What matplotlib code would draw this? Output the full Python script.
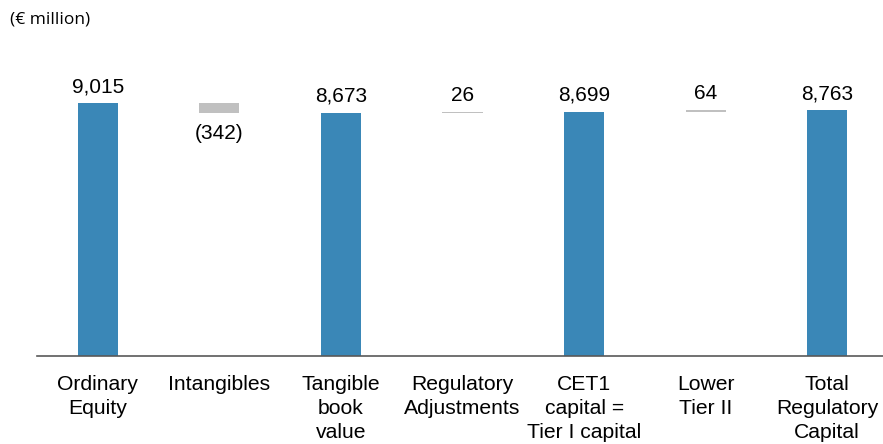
import matplotlib.pyplot as plt

categories = ["Ordinary\nEquity", "Intangibles", "Tangible\nbook\nvalue", "Regulatory\nAdjustments",
              "CET1\ncapital =\nTier I capital", "Lower\nTier II", "Total\nRegulatory\nCapital"]
values = [9015, -342, 8673, 26, 8699, 64, 8763]
is_total = [True, False, True, False, True, False, True]

blue = "#3A87B7"
grey = "#C0C0C0"

plt.rcParams['font.family'] = ['Liberation Sans', 'DejaVu Sans']

fig = plt.figure(figsize=(8.83, 4.44), dpi=100)
ax = fig.add_axes([37 / 883, 88 / 444, 851 / 883, 316 / 444])

running = 0
for i, (v, tot) in enumerate(zip(values, is_total)):
    if tot:
        bottom, height, color = 0, v, blue
        running = v
    else:
        bottom = running if v > 0 else running + v
        height, color = abs(v), grey
        running = running + v
    ax.bar(i, height, bottom=bottom, width=0.33, color=color, linewidth=0)
    if v < 0:
        label = f"({abs(v):,})"
        ax.annotate(label, (i, bottom), xytext=(0, -8.5), textcoords='offset points',
                    ha='center', va='top', fontsize=15)
    else:
        ax.annotate(f"{v:,}", (i, bottom + height), xytext=(0, 5), textcoords='offset points',
                    ha='center', va='bottom', fontsize=15)

ax.set_xlim(-0.5, 6.5)
ax.set_ylim(0, 11260)
ax.set_xticks(range(len(categories)))
ax.set_xticklabels(categories, fontsize=15.2, linespacing=1.32)
ax.tick_params(axis='x', length=0, pad=14)
ax.set_yticks([])
for s in ['top', 'right', 'left']:
    ax.spines[s].set_visible(False)
ax.spines['bottom'].set_color('#595959')
ax.spines['bottom'].set_linewidth(1.2)

fig.text(10 / 883, 1 - 20 / 444, "(€ million)", fontsize=12.5, family='Open Sans', va='center', ha='left')

fig.savefig("out.png", dpi=100)
